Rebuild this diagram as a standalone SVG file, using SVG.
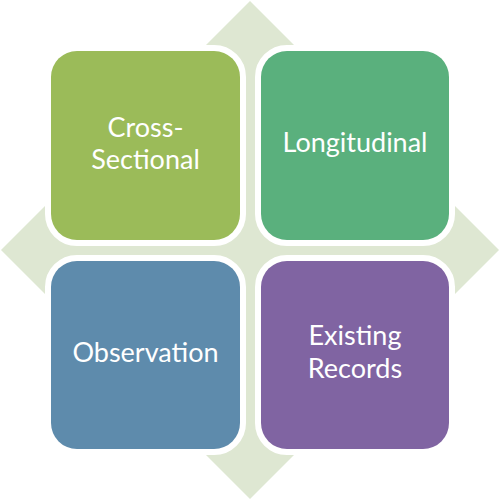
<svg xmlns="http://www.w3.org/2000/svg" width="500" height="500" viewBox="0 0 500 500">
<style>
.box{stroke:#fff;stroke-width:12;paint-order:stroke}
.lbl{font-family:Lato,"Open Sans","Liberation Sans",sans-serif;font-size:27px;fill:#fff;text-anchor:middle}
</style>
<rect width="500" height="500" fill="#fff"/>
<g id="connectors">
<polygon fill="#DEE7D2" points="250,1 294,45 286,45 286,214 455,214 455,206 499,250 455,294 455,286 286,286 286,455 294,455 250,499 206,455 214,455 214,286 45,286 45,294 1,250 45,206 45,214 214,214 214,45 206,45"/>
</g>
<g id="cross-sectional">
<rect class="box" x="51" y="51" width="189" height="189" rx="26" fill="#9BBB59"/>
<text class="lbl" x="145.5" y="137">Cross-</text>
<text class="lbl" x="145.5" y="169">Sectional</text>
</g>
<g id="longitudinal">
<rect class="box" x="261" y="51" width="188" height="189" rx="26" fill="#5AB07D"/>
<text class="lbl" x="355" y="152">Longitudinal</text>
</g>
<g id="observation">
<rect class="box" x="51" y="261" width="189" height="188" rx="26" fill="#5E8BAC"/>
<text class="lbl" x="145.5" y="362">Observation</text>
</g>
<g id="existing-records">
<rect class="box" x="261" y="261" width="188" height="188" rx="26" fill="#8064A2"/>
<text class="lbl" x="355" y="345">Existing</text>
<text class="lbl" x="355" y="378">Records</text>
</g>
</svg>
